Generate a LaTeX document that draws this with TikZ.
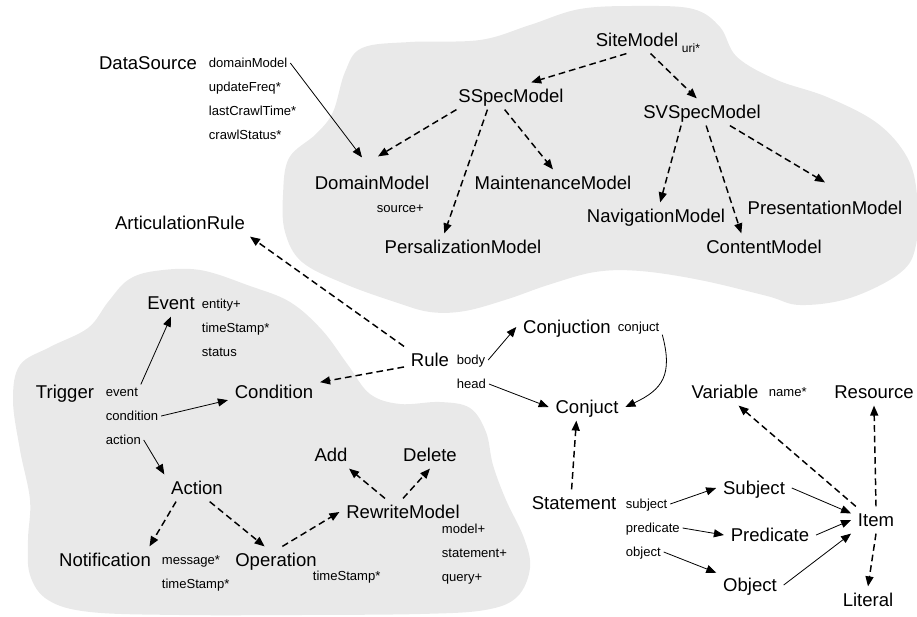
\documentclass[tikz,border=0pt]{standalone}
\usepackage{fontspec}
\setmainfont{Liberation Sans}
\usetikzlibrary{positioning,arrows.meta}
\definecolor{blobgray}{RGB}{233,233,233}

\begin{document}
\begin{tikzpicture}[x=0.75pt,y=-0.75pt,>={Triangle[length=7.5pt,width=6pt]},
  node distance=18pt,
  cls/.style={inner sep=5pt,font=\fontsize{13.9}{16}\selectfont,text height=10pt,text depth=0pt},
  attr/.style={inner sep=2pt,anchor=west,font=\fontsize{9.8}{12}\selectfont,text height=7pt,text depth=0pt},
  nextattr/.style={below=of #1.west,anchor=west},
  isa/.style={dash pattern=on 5pt off 3pt,line width=1.1pt},
  has/.style={line width=0.6pt}]
  \useasboundingbox (0,0) rectangle (917,617);

  % grey groups
  \fill[blobgray] plot[smooth cycle,tension=.6] coordinates {
    (345,72) (362,48) (410,42) (480,40) (530,25) (580,9) (640,6) (693,9)
    (720,27) (737,57) (777,80) (827,97) (877,123) (907,157) (917,195)
    (916,245) (900,273) (850,298) (800,305) (767,296) (700,280) (640,271)
    (595,272) (548,285) (508,299) (465,311) (430,312) (395,302) (345,284)
    (302,262) (285,232) (283,195) (289,158) (316,134) (333,112)};
  \fill[blobgray] plot[smooth cycle,tension=.6] coordinates {
    (155,271) (200,270) (250,286) (290,302) (322,330) (348,365) (370,394)
    (400,404) (440,402) (470,408) (486,432) (493,465) (506,500) (524,538)
    (530,568) (517,597) (485,610) (420,614) (300,615) (180,615) (90,612)
    (48,600) (30,575) (28,540) (30,500) (20,450) (13,400) (20,365) (50,347)
    (88,328) (108,302) (128,280)};

  % site model part
  \node[cls] (site) at (637,40) {SiteModel};
  \node[attr,font=\fontsize{9}{11}\selectfont] (site-uri) at (679,48) {uri*};
  \node[cls] (sspec) at (511,96) {SSpecModel};
  \node[cls] (svspec) at (702,112) {SVSpecModel};
  \node[cls] (domain) at (372,183) {DomainModel};
  \node[attr] (dm-src) at (374,208) {source+};
  \node[cls] (maint) at (553,183) {MaintenanceModel};
  \node[cls] (persal) at (463,247) {PersalizationModel};
  \node[cls] (navig) at (656,216) {NavigationModel};
  \node[cls] (content) at (764,247) {ContentModel};
  \node[cls] (present) at (825,208) {PresentationModel};

  \node[cls] (datasrc) at (148,63) {DataSource};
  \node[attr] (ds-dm) at (206,63) {domainModel};
  \node[attr,nextattr=ds-dm] (ds-uf) {updateFreq*};
  \node[attr,nextattr=ds-uf] (ds-lc) {lastCrawlTime*};
  \node[attr,nextattr=ds-lc] (ds-cs) {crawlStatus*};

  \node[cls] (artrule) at (180,223) {ArticulationRule};

  % trigger part
  \node[cls] (event) at (171,303) {Event};
  \node[attr] (ev-ent) at (199,304) {entity+};
  \node[attr,nextattr=ev-ent] (ev-ts) {timeStamp*};
  \node[attr,nextattr=ev-ts] (ev-st) {status};
  \node[cls] (trigger) at (65,392) {Trigger};
  \node[attr] (tr-ev) at (103,392) {event};
  \node[attr,nextattr=tr-ev] (tr-cond) {condition};
  \node[attr,nextattr=tr-cond] (tr-act) {action};
  \node[cls] (cond) at (274,392) {Condition};
  \node[cls] (action) at (197,488) {Action};
  \node[cls] (notif) at (105,560) {Notification};
  \node[attr] (no-msg) at (159,560) {message*};
  \node[attr,nextattr=no-msg] (no-ts) {timeStamp*};
  \node[cls] (oper) at (276,560) {Operation};
  \node[attr] (op-ts) at (310,576) {timeStamp*};
  \node[cls] (rewrite) at (403,512) {RewriteModel};
  \node[attr] (rw-mod) at (439,529) {model+};
  \node[attr,nextattr=rw-mod] (rw-st) {statement+};
  \node[attr,nextattr=rw-st] (rw-q) {query+};
  \node[cls] (add) at (331,455) {Add};
  \node[cls] (delete) at (430,455) {Delete};

  % rule part
  \node[cls] (rule) at (430,360) {Rule};
  \node[attr] (ru-body) at (454,360) {body};
  \node[attr,nextattr=ru-body] (ru-head) {head};
  \node[cls] (conjn) at (567,327) {Conjuction};
  \node[attr] (cj-conj) at (615,327) {conjuct};
  \node[cls] (conjt) at (587,407) {Conjuct};
  \node[cls] (stmt) at (574,503) {Statement};
  \node[attr] (st-subj) at (623,504) {subject};
  \node[attr,nextattr=st-subj] (st-pred) {predicate};
  \node[attr,nextattr=st-pred] (st-obj) {object};
  \node[cls] (subject) at (754,488) {Subject};
  \node[cls] (pred) at (770,535) {Predicate};
  \node[cls] (object) at (750,585) {Object};
  \node[cls] (item) at (876,520) {Item};
  \node[cls] (variable) at (725,392) {Variable};
  \node[attr] (va-name) at (766,392) {name*};
  \node[cls] (resource) at (874,392) {Resource};
  \node[cls] (literal) at (868,600) {Literal};

  % subclass links
  \path[->,isa]
    (site.232) edge (sspec.34)
    (site.-45) edge (svspec.111)
    (sspec.194) edge ([shift={(6,-13)}]domain.north)
    (sspec.210) edge (persal.144)
    (sspec.245) edge (maint.north)
    (svspec.213) edge (navig.73)
    (svspec.-73) edge (content.149)
    (svspec.-26) edge ([shift={(0,-12)}]present.north)
    (rule.north west) edge (artrule.-11)
    (rule.195) edge (cond.12)
    (action.213) edge (notif.17)
    (action.-47) edge (oper.130)
    (oper.65) edge (rewrite.west)
    (rewrite.143) edge (add.-37)
    (rewrite.north) edge (delete.south)
    (stmt.100) edge (conjt.232)
    (item.146) edge (variable.-45)
    (item.north) edge (resource.south)
    (item.south) edge (literal.north);

  % attribute links
  \path[->,has]
    (ds-dm.east) edge ([shift={(-10,-12)}]domain.north)
    (tr-ev.north east) edge (event.south)
    (tr-cond.east) edge (cond.190)
    (tr-act.east) edge (action.north west)
    (ru-body.east) edge (conjn.west)
    (ru-head.east) edge (conjt.west)
    (cj-conj.south east) edge[out=-75,in=25,looseness=1.3] (conjt.east)
    (st-subj.east) edge (subject.west)
    (st-pred.east) edge (pred.west)
    (st-obj.east) edge (object.160)
    (subject.east) edge (item.165)
    (pred.east) edge (item.west)
    (object.east) edge (item.south west);
\end{tikzpicture}
\end{document}
